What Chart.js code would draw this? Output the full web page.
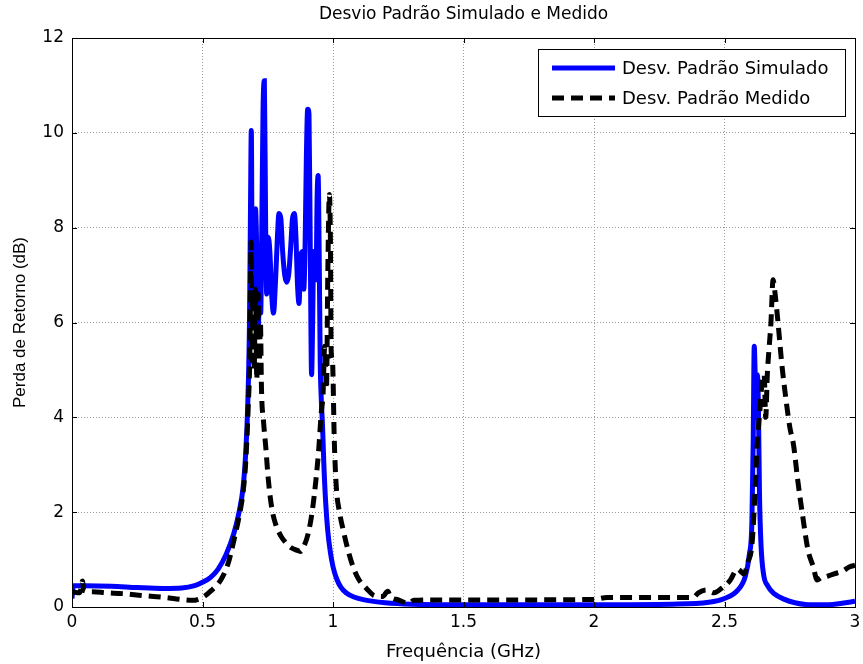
<!DOCTYPE html>
<html>
<head>
<meta charset="utf-8">
<title>Desvio Padrão Simulado e Medido</title>
<script src="https://cdn.jsdelivr.net/npm/chart.js@4.4.1/dist/chart.umd.min.js"></script>
<style>
  html, body { margin: 0; padding: 0; background: #fff; }
  #wrap { width: 863px; height: 664px; }
</style>
</head>
<body>
<div id="wrap"><canvas id="chart" width="863" height="664"></canvas></div>
<script>
// frequency (GHz) / return loss std-dev (dB)
const simFreq = [0, 0.005, 0.05, 0.15, 0.25, 0.35, 0.42, 0.47, 0.50, 0.53, 0.56, 0.59, 0.62, 0.64, 0.655, 0.665, 0.673, 0.68, 0.684, 0.687,
  0.691, 0.697, 0.703, 0.708, 0.713, 0.718, 0.723, 0.727, 0.732, 0.737, 0.742, 0.746, 0.752, 0.758, 0.765, 0.772, 0.780, 0.787, 0.793, 0.800,
  0.807, 0.815, 0.823, 0.830, 0.838, 0.845, 0.852, 0.858, 0.864, 0.870, 0.876, 0.883, 0.888, 0.893, 0.898, 0.903, 0.908, 0.913, 0.918, 0.922,
  0.926, 0.930, 0.935, 0.939, 0.943, 0.947, 0.951, 0.955, 0.960, 0.965, 0.972, 0.980, 0.990, 1.000, 1.015, 1.03, 1.05, 1.08, 1.12, 1.2,
  1.3, 1.5, 2.0, 2.3, 2.44, 2.50, 2.55, 2.58, 2.595, 2.605, 2.61, 2.614, 2.618, 2.622, 2.626, 2.630, 2.634, 2.640, 2.650, 2.665,
  2.69, 2.73, 2.77, 2.82, 2.90, 2.95, 3.0];
const simVals = [0.18, 0.45, 0.45, 0.44, 0.41, 0.39, 0.40, 0.45, 0.52, 0.62, 0.80, 1.10, 1.55, 2.0, 2.5, 3.2, 4.2, 6.0, 8.5, 10.05,
  6.5, 8.0, 8.4, 7.5, 5.8, 6.5, 6.2, 7.9, 10.5, 11.1, 8.0, 6.6, 7.8, 7.5, 6.6, 6.2, 6.9, 7.8, 8.3, 8.2,
  7.5, 7.0, 6.85, 7.0, 7.6, 8.2, 8.3, 7.8, 6.8, 6.4, 7.4, 7.5, 6.7, 7.6, 9.5, 10.5, 10.4, 7.5, 4.9, 6.0,
  7.5, 6.9, 6.9, 8.6, 9.1, 7.5, 5.2, 4.4, 3.8, 3.0, 2.2, 1.6, 1.15, 0.85, 0.58, 0.42, 0.30, 0.21, 0.15, 0.09,
  0.06, 0.05, 0.05, 0.06, 0.10, 0.18, 0.35, 0.65, 1.1, 1.8, 3.5, 5.5, 4.8, 4.0, 4.9, 4.2, 2.4, 1.3, 0.68, 0.45,
  0.28, 0.16, 0.09, 0.05, 0.05, 0.08, 0.12];

const medFreq = [0, 0.03, 0.04, 0.045, 0.08, 0.13, 0.2, 0.27, 0.34, 0.40, 0.46, 0.50, 0.53, 0.57, 0.60, 0.62, 0.64, 0.655, 0.665, 0.675,
  0.682, 0.686, 0.690, 0.694, 0.698, 0.703, 0.708, 0.713, 0.718, 0.722, 0.726, 0.734, 0.742, 0.752, 0.765, 0.78, 0.80, 0.82, 0.84, 0.86,
  0.875, 0.89, 0.905, 0.92, 0.935, 0.945, 0.955, 0.962, 0.968, 0.975, 0.980, 0.986, 0.990, 0.993, 0.998, 1.005, 1.013, 1.025, 1.04, 1.06,
  1.08, 1.10, 1.13, 1.155, 1.19, 1.21, 1.22, 1.25, 1.29, 1.31, 1.4, 1.7, 2.0, 2.05, 2.2, 2.38, 2.40, 2.43, 2.46, 2.49,
  2.52, 2.55, 2.575, 2.59, 2.605, 2.615, 2.625, 2.635, 2.645, 2.652, 2.658, 2.664, 2.670, 2.678, 2.686, 2.694, 2.705, 2.72, 2.735, 2.75,
  2.765, 2.78, 2.80, 2.82, 2.84, 2.855, 2.87, 2.89, 2.92, 2.95, 2.98, 3.0];
const medVals = [0.32, 0.30, 0.55, 0.35, 0.32, 0.30, 0.28, 0.24, 0.21, 0.17, 0.14, 0.20, 0.33, 0.57, 0.95, 1.4, 1.9, 2.4, 3.0, 4.2,
  5.5, 7.7, 5.2, 6.6, 5.0, 6.7, 4.8, 6.6, 5.2, 6.0, 4.6, 3.9, 3.4, 2.7, 2.1, 1.75, 1.5, 1.35, 1.25, 1.2,
  1.17, 1.3, 1.55, 2.0, 2.7, 3.3, 4.1, 4.5, 5.5, 4.6, 7.0, 8.7, 7.8, 5.4, 5.2, 3.5, 2.5, 2.0, 1.6, 1.15,
  0.80, 0.57, 0.38, 0.25, 0.22, 0.33, 0.22, 0.15, 0.08, 0.14, 0.15, 0.15, 0.16, 0.20, 0.20, 0.20, 0.30, 0.36, 0.30, 0.40,
  0.55, 0.80, 0.70, 0.95, 1.3, 2.2, 3.4, 4.1, 4.8, 4.9, 4.0, 4.9, 5.4, 6.0, 6.9, 6.6, 6.0, 5.1, 4.4, 3.8,
  3.4, 2.7, 1.9, 1.2, 0.85, 0.57, 0.62, 0.64, 0.70, 0.75, 0.85, 0.88];

const seriesNames = ['Desv. Padrão Simulado', 'Desv. Padrão Medido'];
const xTicks = [0, 0.5, 1, 1.5, 2, 2.5, 3];
const yTicks = [0, 2, 4, 6, 8, 10, 12];
const chartTitle = 'Desvio Padrão Simulado e Medido';

const FONT = '"DejaVu Sans", Verdana, sans-serif';
const FONT_V = '"Liberation Sans", Arial, sans-serif';

function toPoints(xs, ys) {
  return xs.map((x, i) => ({ x: x, y: ys[i] }));
}

// box around the axes plus inward tick marks on all four sides (matlab style)
const boxPlugin = {
  id: 'boxFrame',
  afterDatasetsDraw(chart) {
    const { ctx, chartArea: a, scales } = chart;
    const len = 5;
    ctx.save();
    ctx.strokeStyle = '#000';
    ctx.lineWidth = 1;
    ctx.beginPath();
    xTicks.forEach(v => {
      const px = Math.round(scales.x.getPixelForValue(v)) + 0.5;
      ctx.moveTo(px, a.bottom); ctx.lineTo(px, a.bottom - len);
      ctx.moveTo(px, a.top); ctx.lineTo(px, a.top + len);
    });
    yTicks.forEach(v => {
      const py = Math.round(scales.y.getPixelForValue(v)) + 0.5;
      ctx.moveTo(a.left, py); ctx.lineTo(a.left + len, py);
      ctx.moveTo(a.right, py); ctx.lineTo(a.right - len, py);
    });
    ctx.stroke();
    ctx.strokeRect(Math.round(a.left) + 0.5, Math.round(a.top) + 0.5,
      Math.round(a.right - a.left), Math.round(a.bottom - a.top));
    ctx.restore();
  }
};

// title centred over the plot area, like the matlab axes title
const titlePlugin = {
  id: 'axesTitle',
  afterDraw(chart) {
    const { ctx, chartArea: a } = chart;
    ctx.save();
    ctx.font = '17px ' + FONT;
    ctx.fillStyle = '#000';
    ctx.textAlign = 'center';
    ctx.textBaseline = 'middle';
    ctx.fillText(chartTitle, (a.left + a.right) / 2, a.top - 23);
    ctx.restore();
  }
};

// legend box inside the upper right corner
const legendPlugin = {
  id: 'innerLegend',
  afterDraw(chart) {
    const { ctx, chartArea: a } = chart;
    const w = 307, h = 67;
    const x0 = a.right - 10 - w, y0 = a.top + 11;
    ctx.save();
    ctx.fillStyle = '#fff';
    ctx.fillRect(x0, y0, w, h);
    ctx.strokeStyle = '#000';
    ctx.lineWidth = 1;
    ctx.strokeRect(x0 + 0.5, y0 + 0.5, w, h);
    ctx.font = '18px ' + FONT;
    ctx.textBaseline = 'middle';
    ctx.fillStyle = '#000';
    chart.data.datasets.forEach(ds => {
      const idx = seriesNames.indexOf(ds.label);
      const yy = y0 + 19 + idx * 30;
      ctx.beginPath();
      ctx.strokeStyle = ds.borderColor;
      ctx.lineWidth = 5;
      ctx.setLineDash(ds.borderDash || []);
      ctx.moveTo(x0 + 14, yy);
      ctx.lineTo(x0 + 77, yy);
      ctx.stroke();
      ctx.setLineDash([]);
      ctx.fillText(ds.label, x0 + 84, yy + 1);
    });
    ctx.restore();
  }
};

new Chart(document.getElementById('chart'), {
  type: 'line',
  data: {
    datasets: [
      {
        label: seriesNames[1],
        data: toPoints(medFreq, medVals),
        borderColor: '#000',
        borderWidth: 5,
        borderDash: [12, 7],
        cubicInterpolationMode: 'monotone',
        pointRadius: 0,
        fill: false,
        order: 0
      },
      {
        label: seriesNames[0],
        data: toPoints(simFreq, simVals),
        borderColor: '#0000ff',
        borderWidth: 5,
        cubicInterpolationMode: 'monotone',
        pointRadius: 0,
        fill: false,
        order: 1
      }
    ]
  },
  options: {
    responsive: false,
    animation: false,
    layout: { padding: { left: 0, right: 8, top: 38, bottom: 0 } },
    plugins: {
      legend: { display: false },
      tooltip: { enabled: false },
      title: { display: false }
    },
    scales: {
      x: {
        type: 'linear',
        min: 0,
        max: 3,
        afterBuildTicks: s => { s.ticks = xTicks.map(v => ({ value: v })); },
        afterFit: s => { s.height = 57; s.paddingLeft = 0; s.paddingRight = 0; },
        grid: { color: '#9a9a9a', lineWidth: 1, drawTicks: false },
        border: { display: false, dash: [1, 2] },
        ticks: {
          color: '#000', padding: 5, maxRotation: 0,
          font: { family: FONT, size: 17 },
          callback: v => String(v)
        },
        title: {
          display: true,
          text: 'Frequência (GHz)',
          color: '#000',
          font: { family: FONT, size: 18 },
          padding: { top: 0, bottom: 1 }
        }
      },
      y: {
        min: 0,
        max: 12,
        afterBuildTicks: s => { s.ticks = yTicks.map(v => ({ value: v })); },
        afterFit: s => { s.width = 72; s.paddingTop = 0; s.paddingBottom = 0; },
        grid: { color: '#9a9a9a', lineWidth: 1, drawTicks: false },
        border: { display: false, dash: [1, 2] },
        ticks: {
          color: '#000', padding: 8,
          font: { family: FONT, size: 17 },
          callback: v => String(v)
        },
        title: {
          display: true,
          text: 'Perda de Retorno (dB)',
          color: '#000',
          font: { family: FONT_V, size: 17 },
          padding: { top: 10, bottom: 0 }
        }
      }
    }
  },
  plugins: [boxPlugin, titlePlugin, legendPlugin]
});
</script>
</body>
</html>
